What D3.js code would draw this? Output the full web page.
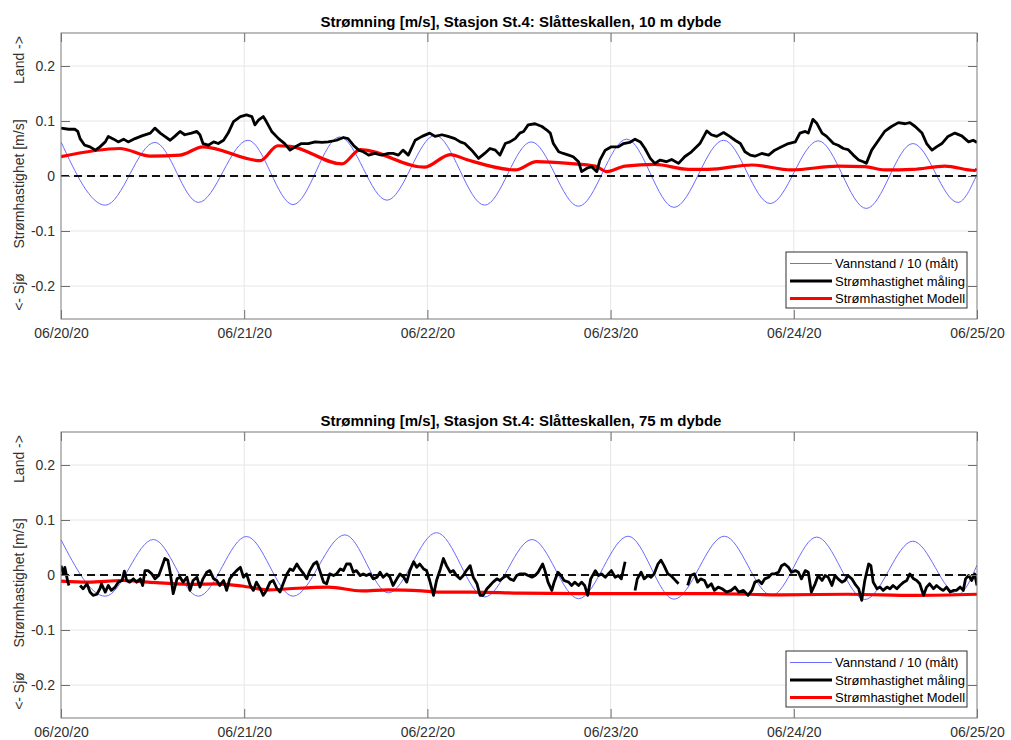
<!DOCTYPE html>
<html>
<head>
<meta charset="utf-8">
<script src="https://cdn.jsdelivr.net/npm/d3@7"></script>
<style>
  body { margin: 0; background: #fff; }
  text { font-family: "Liberation Sans", Arial, sans-serif; }
</style>
</head>
<body>
<svg id="chart" width="1011" height="740"></svg>
<script>
// times are hours after 06/20/20 00:00
const titles = [
    "Strømning [m/s], Stasjon St.4: Slåtteskallen, 10 m dybde",
    "Strømning [m/s], Stasjon St.4: Slåtteskallen, 75 m dybde"
];
const legendLabels = ["Vannstand / 10 (målt)", "Strømhastighet måling", "Strømhastighet Modell"];
const yTicks = [-0.2, -0.1, 0, 0.1, 0.2];

// ---- 10 m panel ----
const tideTopHours = [0, 5.8, 12.3, 18.0, 24.5, 30.4, 36.5, 42.7, 49.0, 55.5, 61.6, 67.8, 74.1, 80.3, 86.8, 92.9, 99.2, 105.5, 111.6, 117.5, 120];
const tideTopValues = [0.062, -0.053, 0.061, -0.048, 0.065, -0.052, 0.071, -0.044, 0.074, -0.053, 0.062, -0.055, 0.067, -0.057, 0.065, -0.050, 0.064, -0.059, 0.059, -0.048, 0.003];

const measTopHours = [0, 1.0, 1.8, 2.2, 2.5, 3.1, 3.8, 4.5, 5.1, 5.8, 6.2, 6.9, 7.5, 8.2, 8.8, 9.7, 10.6, 11.7, 12.3, 13.0,
    13.6, 14.3, 14.9, 15.6, 16.2, 17.1, 17.8, 18.2, 18.6, 19.3, 20.0, 20.6, 21.3, 21.9, 22.6, 23.5, 24.3, 25.0, 25.4, 25.9,
    26.5, 26.9, 27.6, 28.5, 29.3, 30.0, 30.7, 31.5, 32.4, 33.3, 34.2, 35.0, 36.1, 37.0, 37.6, 38.3, 39.0, 39.6, 40.3, 41.1,
    42.0, 42.9, 43.5, 44.2, 44.8, 45.5, 46.4, 47.3, 48.3, 49.0, 49.9, 50.7, 51.6, 52.3, 52.9, 53.8, 54.7, 55.5, 56.2, 56.9,
    57.5, 58.2, 58.8, 59.5, 60.1, 60.6, 61.2, 62.1, 63.0, 63.6, 64.1, 64.5, 65.2, 65.8, 66.5, 67.1, 67.8, 68.2, 68.9, 69.5,
    70.2, 70.6, 71.3, 72.1, 73.0, 73.7, 74.5, 75.2, 75.9, 76.5, 77.2, 77.8, 78.5, 79.3, 80.0, 80.9, 81.7, 82.6, 83.7, 84.6,
    85.2, 85.9, 86.8, 87.6, 88.3, 89.0, 89.6, 90.3, 90.9, 91.8, 92.7, 93.5, 94.4, 95.3, 96.2, 96.8, 97.5, 97.9, 98.5, 99.0,
    99.7, 100.3, 101.2, 101.8, 102.5, 103.1, 103.8, 104.5, 105.1, 105.5, 106.2, 107.1, 107.9, 108.8, 109.7, 110.6, 111.2, 111.9, 112.8, 113.4,
    114.1, 114.7, 115.4, 116.2, 117.1, 118.0, 118.9, 119.5, 120.0];
const measTopValues = [0.087, 0.085, 0.085, 0.081, 0.068, 0.056, 0.053, 0.047, 0.053, 0.062, 0.072, 0.067, 0.062, 0.067, 0.062, 0.068, 0.073, 0.078, 0.087, 0.078,
    0.072, 0.065, 0.072, 0.081, 0.075, 0.078, 0.081, 0.075, 0.059, 0.056, 0.062, 0.059, 0.065, 0.078, 0.099, 0.108, 0.111, 0.108, 0.093, 0.102,
    0.108, 0.099, 0.081, 0.068, 0.059, 0.047, 0.053, 0.059, 0.059, 0.062, 0.061, 0.062, 0.065, 0.070, 0.068, 0.056, 0.047, 0.044, 0.038, 0.041,
    0.038, 0.041, 0.041, 0.038, 0.047, 0.038, 0.065, 0.072, 0.078, 0.072, 0.075, 0.072, 0.068, 0.062, 0.059, 0.047, 0.032, 0.041, 0.050, 0.047,
    0.038, 0.059, 0.062, 0.068, 0.078, 0.081, 0.093, 0.095, 0.090, 0.084, 0.078, 0.059, 0.044, 0.041, 0.038, 0.035, 0.026, 0.008, 0.014, 0.017,
    0.008, 0.029, 0.047, 0.053, 0.053, 0.059, 0.061, 0.067, 0.062, 0.050, 0.032, 0.023, 0.029, 0.026, 0.030, 0.023, 0.035, 0.044, 0.059, 0.082,
    0.075, 0.072, 0.079, 0.072, 0.065, 0.059, 0.044, 0.038, 0.036, 0.041, 0.038, 0.047, 0.053, 0.059, 0.062, 0.078, 0.081, 0.078, 0.103, 0.096,
    0.078, 0.072, 0.059, 0.056, 0.050, 0.048, 0.038, 0.029, 0.026, 0.023, 0.047, 0.065, 0.081, 0.090, 0.097, 0.095, 0.097, 0.090, 0.078, 0.059,
    0.047, 0.053, 0.059, 0.072, 0.078, 0.073, 0.062, 0.065, 0.061];

const modelTopHours = [0, 7.7, 11.7, 15.6, 18.6, 26.1, 28.4, 30.0, 36.8, 39.2, 47.6, 51.0, 53.1, 59.5, 62.3, 66.5, 70.0, 71.5, 73.9, 77.8,
    82.2, 84.8, 90.5, 95.7, 101.8, 105.3, 107.9, 111.6, 115.8, 119.7, 120];
const modelTopValues = [0.035, 0.050, 0.036, 0.038, 0.053, 0.028, 0.055, 0.054, 0.022, 0.048, 0.016, 0.039, 0.030, 0.011, 0.026, 0.023, 0.018, 0.008, 0.018, 0.021,
    0.012, 0.012, 0.020, 0.011, 0.018, 0.017, 0.011, 0.012, 0.018, 0.010, 0.013];

// ---- 75 m panel ----
const tideBotHours = [0, 5.8, 12.1, 18.0, 24.3, 30.4, 37.2, 42.9, 49.2, 55.5, 61.7, 67.8, 74.3, 80.3, 86.9, 93.1, 99.0, 105.3, 111.6, 117.5, 120];
const tideBotValues = [0.064, -0.0385, 0.0645, -0.0385, 0.070, -0.0385, 0.073, -0.0325, 0.077, -0.040, 0.0645, -0.043, 0.0705, -0.044, 0.0705, -0.037, 0.069, -0.0445, 0.0615, -0.035, 0.018];

// null = gap in the measurement
const measBotHours = [0.0, 0.3, 0.5, 0.9, 1.05, 1.6, 2.5, 2.9, 3.4, 3.8, 4.2, 4.7, 5.1, 5.3, 5.8, 6.2, 6.6, 7.1, 7.5, 8.0,
    8.3, 8.6, 9.0, 9.5, 9.9, 10.4, 10.7, 11.0, 11.4, 11.9, 12.3, 12.8, 13.2, 13.6, 14.0, 14.3, 14.7, 15.2, 15.6, 16.0,
    16.5, 16.9, 17.3, 17.8, 18.2, 18.6, 19.1, 19.5, 20.0, 20.4, 20.8, 21.3, 21.7, 22.1, 22.6, 23.0, 23.5, 23.9, 24.3, 24.8,
    25.2, 25.6, 26.1, 26.5, 26.9, 27.4, 27.8, 28.3, 28.7, 29.1, 29.6, 30.0, 30.4, 30.9, 31.3, 31.8, 32.2, 32.6, 33.1, 33.5,
    33.9, 34.4, 34.8, 35.2, 35.7, 36.1, 36.6, 37.0, 37.4, 37.9, 38.3, 38.7, 39.2, 39.6, 40.0, 40.5, 40.9, 41.4, 41.8, 42.2,
    42.7, 43.1, 43.5, 44.0, 44.4, 44.9, 45.3, 45.7, 46.2, 46.6, 47.0, 47.5, 47.9, 48.3, 48.8, 49.2, 49.7, 50.1, 50.5, 51.0,
    51.4, 51.8, 52.3, 52.7, 53.1, 53.6, 54.0, 54.5, 54.9, 55.3, 55.8, 56.2, 56.6, 57.1, 57.5, 58.0, 58.4, 58.8, 59.3, 59.7,
    60.1, 60.3, 60.8, 61.2, 61.7, 62.1, 62.5, 63.1, 63.4, 63.8, 64.3, 64.6, 65.1, 65.5, 65.9, 66.5, 66.9, 67.3, 67.8, 68.2,
    68.6, 69.0, 69.4, 70.0, 70.4, 70.8, 71.3, 71.7, 72.1, 72.6, 73.0, 73.4, 73.9, 74.5, 75.2, 75.5, 76.0, 76.4, 76.9, 77.3,
    77.7, 78.2, 78.6, 79.0, 79.5, 79.9, 80.3, 80.9, 81.5, 82.1, 82.5, 83.0, 83.4, 83.8, 84.3, 84.7, 85.2, 85.6, 86.1, 86.6,
    87.2, 87.8, 88.3, 88.8, 89.4, 90.0, 90.5, 90.9, 91.4, 91.8, 92.2, 92.7, 93.1, 93.5, 94.0, 94.4, 94.8, 95.3, 95.7, 96.2,
    96.6, 97.0, 97.5, 97.9, 98.3, 98.8, 99.2, 99.7, 100.1, 100.5, 101.0, 101.4, 101.8, 102.3, 102.7, 103.1, 103.6, 104.0, 104.5, 104.9,
    105.3, 105.8, 106.1, 106.4, 106.9, 107.3, 107.7, 108.2, 108.6, 109.0, 109.5, 109.9, 110.4, 110.8, 111.2, 111.7, 112.1, 112.5, 113.0, 113.4,
    113.8, 114.3, 114.7, 115.2, 115.6, 116.0, 116.5, 116.9, 117.3, 117.8, 118.2, 118.5, 118.9, 119.3, 119.7, 120.0];
const measBotValues = [0.017, 0.002, 0.014, -0.013, -0.019, null, -0.019, -0.025, -0.016, -0.031, -0.037, -0.035, -0.025, -0.016, -0.031, -0.019, -0.028, -0.022, -0.013, -0.010,
    0.007, -0.010, -0.013, -0.007, -0.013, -0.007, -0.019, 0.008, 0.008, 0.002, -0.007, -0.001, 0.014, 0.030, 0.027, 0.005, -0.034, -0.007, -0.004, -0.013,
    -0.004, -0.028, -0.010, -0.004, -0.022, -0.007, 0.005, 0.008, -0.007, -0.010, -0.019, -0.010, -0.028, -0.007, 0.002, 0.008, 0.014, -0.004, 0.002, -0.019,
    -0.028, -0.013, -0.025, -0.037, -0.028, -0.013, -0.010, -0.025, -0.031, -0.016, 0.002, 0.011, 0.008, 0.020, 0.011, 0.002, -0.007, 0.008, 0.020, 0.024,
    0.008, -0.013, -0.016, 0.002, -0.001, 0.002, 0.011, 0.008, 0.020, 0.020, 0.005, 0.008, -0.001, 0.002, -0.001, 0.002, -0.007, -0.004, 0.005, -0.004,
    0.002, -0.004, -0.019, -0.007, 0.002, -0.004, -0.013, 0.008, 0.024, 0.014, 0.020, 0.011, 0.008, -0.010, -0.037, -0.010, 0.011, 0.030, 0.017, 0.005,
    0.008, -0.001, -0.007, -0.001, 0.008, 0.017, -0.004, -0.016, -0.037, -0.037, -0.025, -0.019, -0.013, -0.007, -0.010, -0.004, -0.001, -0.007, -0.010, -0.001,
    0.002, 0.002, 0.002, -0.001, -0.004, -0.001, 0.005, 0.020, 0.008, -0.013, -0.028, -0.013, 0.005, -0.001, -0.010, -0.013, -0.019, -0.013, -0.019, -0.013,
    -0.019, -0.037, -0.007, 0.008, -0.001, 0.002, -0.004, 0.002, 0.008, -0.004, -0.001, -0.007, 0.024, null, -0.028, -0.007, 0.005, -0.007, -0.001, -0.004,
    0.002, 0.020, 0.027, 0.017, 0.002, -0.001, -0.007, -0.016, null, -0.019, -0.001, 0.002, -0.013, -0.007, -0.010, -0.022, -0.016, -0.028, -0.022, -0.025,
    -0.031, -0.028, -0.022, -0.031, -0.028, -0.037, -0.028, -0.013, -0.010, -0.016, -0.007, -0.004, 0.002, 0.002, 0.005, 0.017, 0.020, 0.014, 0.005, 0.008,
    0.005, -0.007, 0.008, 0.005, -0.031, -0.016, -0.001, -0.010, -0.001, -0.004, -0.019, -0.001, -0.007, -0.013, -0.010, -0.001, -0.007, -0.016, -0.025, -0.046,
    -0.010, 0.020, 0.017, -0.013, -0.025, -0.022, -0.028, -0.022, -0.025, -0.019, -0.025, -0.019, -0.013, -0.010, 0.002, -0.007, -0.010, -0.016, -0.037, -0.022,
    -0.016, -0.025, -0.019, -0.025, -0.028, -0.022, -0.031, -0.028, -0.028, -0.022, -0.028, -0.007, -0.001, -0.010, 0.002, -0.019];

const modelBotHours = [0, 3.6, 8.0, 11.4, 16.7, 20.2, 23.7, 27.2, 29.8, 35.0, 39.4, 42.9, 47.3, 49.4, 53.8, 60.1, 68.2, 76.9, 85.7, 94.4, 103.1, 111.9, 120];
const modelBotValues = [-0.011, -0.013, -0.010, -0.013, -0.017, -0.016, -0.020, -0.027, -0.025, -0.022, -0.029, -0.027, -0.029, -0.031, -0.031, -0.033, -0.034, -0.034, -0.034, -0.036, -0.035, -0.037, -0.035];

const svg = d3.select("#chart");
const start = new Date(2020, 5, 20);
const toDate = h => new Date(start.getTime() + h * 3600e3);
const pairs = (hs, vs) => hs.map((h, i) => ({ t: toDate(h), v: vs[i] }));

function drawPanel(idx, top, tide, meas, model) {
    const left = 61, right = 977, bottom = top + 286;
    const x = d3.scaleTime().domain([start, toDate(120)]).range([left, right]);
    const y = d3.scaleLinear().domain([-0.26, 0.26]).range([bottom, top]);
    const days = d3.timeDay.range(start, toDate(121));
    const g = svg.append("g");

    // grid
    g.selectAll(".gx").data(days.slice(1, -1)).enter().append("line")
        .attr("x1", d => x(d)).attr("x2", d => x(d))
        .attr("y1", top).attr("y2", bottom)
        .attr("stroke", "#e6e6e6");
    g.selectAll(".gy").data(yTicks).enter().append("line")
        .attr("x1", left).attr("x2", right)
        .attr("y1", d => y(d)).attr("y2", d => y(d))
        .attr("stroke", "#e6e6e6");

    const clipId = "clip" + idx;
    svg.append("clipPath").attr("id", clipId).append("rect")
        .attr("x", left).attr("y", top).attr("width", right - left).attr("height", bottom - top);
    const plot = g.append("g").attr("clip-path", `url(#${clipId})`);

    const line = d3.line().x(d => x(d.t)).y(d => y(d.v)).defined(d => d.v !== null);

    plot.append("path").datum(tide)
        .attr("fill", "none").attr("stroke", "#6b6bff").attr("stroke-width", 1)
        .attr("d", line.curve(d3.curveMonotoneX));

    plot.append("line")
        .attr("x1", left).attr("x2", right).attr("y1", y(0)).attr("y2", y(0))
        .attr("stroke", "#111").attr("stroke-width", 2).attr("stroke-dasharray", "8,5");

    plot.append("path").datum(model)
        .attr("fill", "none").attr("stroke", "#ff0000").attr("stroke-width", 3.2)
        .attr("stroke-linejoin", "round")
        .attr("d", line.curve(d3.curveMonotoneX));

    plot.append("path").datum(meas)
        .attr("fill", "none").attr("stroke", "#000").attr("stroke-width", 2.8)
        .attr("stroke-linejoin", "round")
        .attr("d", line.curve(d3.curveLinear));

    // axes
    const fmt = d3.timeFormat("%m/%d/%y");
    const axB = g.append("g").attr("transform", `translate(0,${bottom})`)
        .call(d3.axisBottom(x).tickValues(days).tickFormat(fmt).tickSize(-9).tickSizeOuter(0).tickPadding(9));
    const axT = g.append("g").attr("transform", `translate(0,${top})`)
        .call(d3.axisTop(x).tickValues(days).tickFormat("").tickSize(-9).tickSizeOuter(0));
    const axL = g.append("g").attr("transform", `translate(${left},0)`)
        .call(d3.axisLeft(y).tickValues(yTicks).tickFormat(d => String(d)).tickSize(-9).tickSizeOuter(0).tickPadding(6));
    const axR = g.append("g").attr("transform", `translate(${right},0)`)
        .call(d3.axisRight(y).tickValues(yTicks).tickFormat("").tickSize(-9).tickSizeOuter(0));
    [axB, axT, axL, axR].forEach(a => {
        a.select(".domain").remove();
        a.selectAll("line").attr("stroke", "#6e6e6e");
        a.selectAll("text").attr("fill", "#303030").style("font-size", "14px")
            .style("font-family", "'Liberation Sans', Arial, sans-serif");
    });
    g.append("rect")
        .attr("x", left).attr("y", top).attr("width", right - left).attr("height", bottom - top)
        .attr("fill", "none").attr("stroke", "#7a7a7a").attr("stroke-width", 1);

    // title
    g.append("text")
        .attr("x", (left + right) / 2 + 2).attr("y", top - 6)
        .attr("text-anchor", "middle")
        .style("font-size", "15px").style("font-weight", "bold")
        .attr("fill", "#000")
        .text(titles[idx]);

    // y label pieces
    const ylab = [["Land ->", 60 - 176], ["Strømhastighet [m/s]", 184 - 176], ["<- Sjø", 292 - 176]];
    ylab.forEach(([txt, off]) => {
        g.append("text")
            .attr("transform", `translate(24,${y(0) + off}) rotate(-90)`)
            .attr("text-anchor", "middle")
            .style("font-size", "14px")
            .attr("fill", "#303030")
            .text(txt);
    });

    // legend
    const lx = 786, ly = top + 219, lw = 181, lh = 56;
    const leg = g.append("g");
    leg.append("rect").attr("x", lx).attr("y", ly).attr("width", lw).attr("height", lh)
        .attr("fill", "#fff").attr("stroke", "#303030").attr("stroke-width", 1);
    const legStyles = [["#6b6bff", 1], ["#000", 2.8], ["#ff0000", 3.2]];
    legendLabels.forEach((lab, i) => {
        const ry = ly + 11.5 + i * 17.5;
        leg.append("line").attr("x1", lx + 4).attr("x2", lx + 46).attr("y1", ry).attr("y2", ry)
            .attr("stroke", legStyles[i][0]).attr("stroke-width", legStyles[i][1]);
        leg.append("text").attr("x", lx + 49).attr("y", ry).attr("dy", "0.35em")
            .style("font-size", "13px").attr("fill", "#000").text(lab);
    });
}

drawPanel(0, 33,
    pairs(tideTopHours, tideTopValues),
    pairs(measTopHours, measTopValues),
    pairs(modelTopHours, modelTopValues));
drawPanel(1, 432,
    pairs(tideBotHours, tideBotValues),
    pairs(measBotHours, measBotValues),
    pairs(modelBotHours, modelBotValues));
</script>
</body>
</html>
